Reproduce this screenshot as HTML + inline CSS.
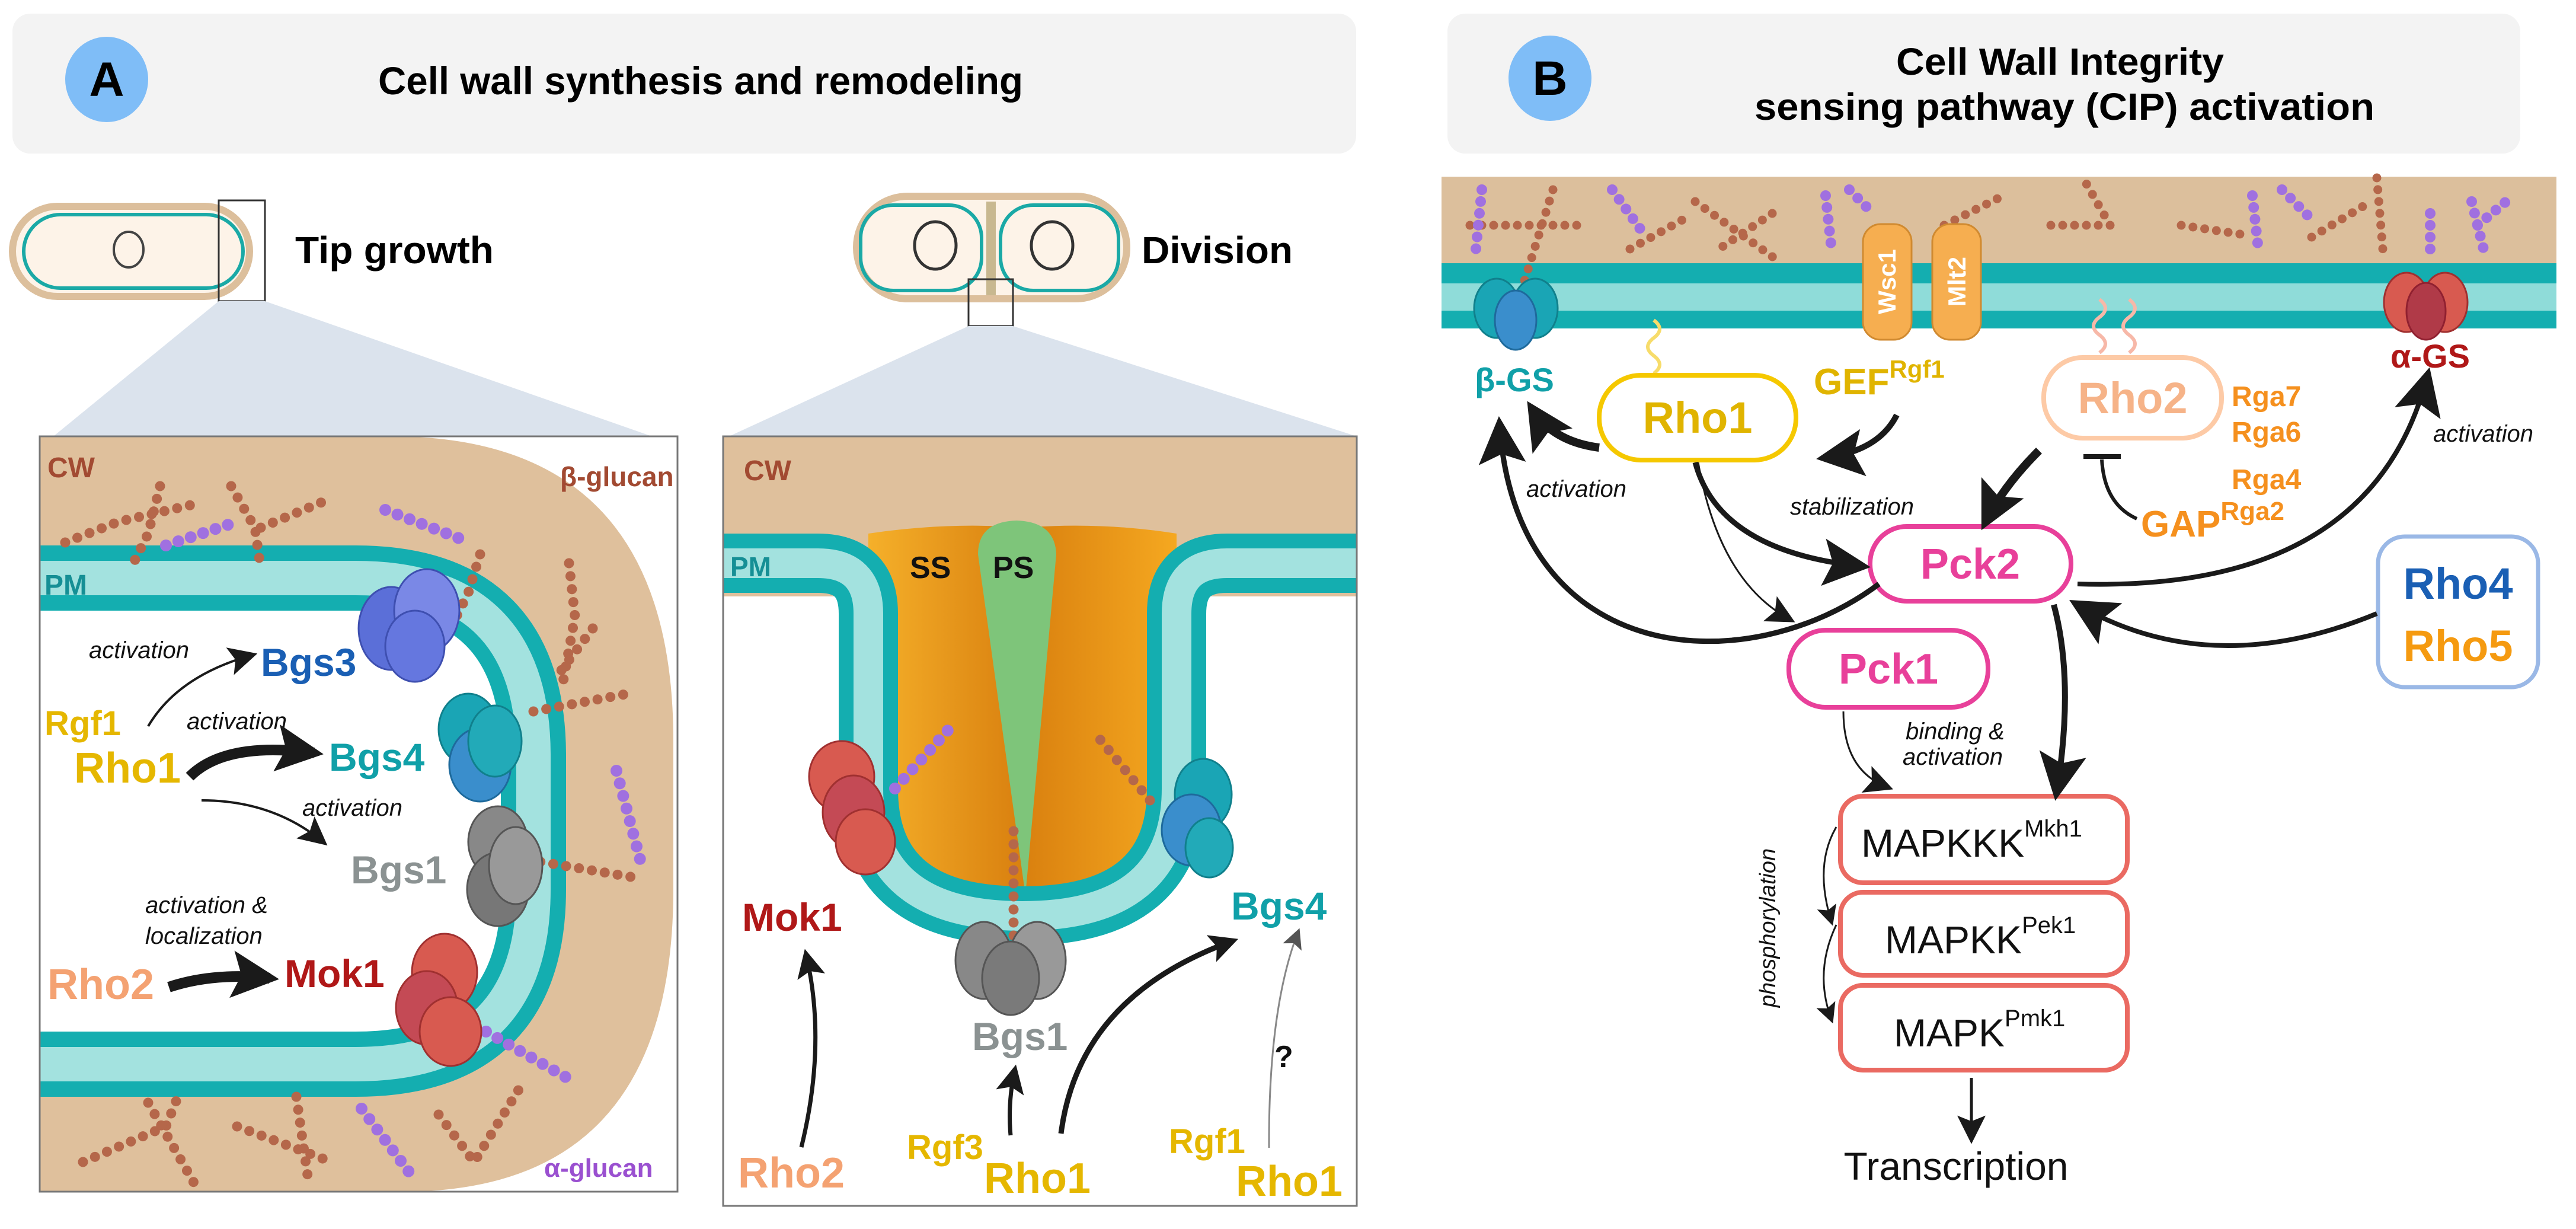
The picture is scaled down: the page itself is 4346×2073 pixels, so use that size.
<!DOCTYPE html>
<html><head><meta charset="utf-8"><style>
html,body{margin:0;padding:0;background:#fff}
svg{display:block}
text{font-family:"Liberation Sans",sans-serif}
</style></head><body>
<svg width="4346" height="2073" viewBox="0 0 4346 2073" xmlns="http://www.w3.org/2000/svg">
<defs>
<marker id="ah" viewBox="0 0 10 10" refX="8" refY="5" markerWidth="48" markerHeight="48" markerUnits="userSpaceOnUse" orient="auto"><path d="M0,0 L10,5 L0,10 L2,5 Z" fill="#1a1a1a"/></marker>
<marker id="ahb" viewBox="0 0 10 10" refX="8" refY="5" markerWidth="80" markerHeight="80" markerUnits="userSpaceOnUse" orient="auto"><path d="M0,0 L10,5 L0,10 L2,5 Z" fill="#1a1a1a"/></marker>
<marker id="ahs" viewBox="0 0 10 10" refX="8" refY="5" markerWidth="34" markerHeight="34" markerUnits="userSpaceOnUse" orient="auto"><path d="M0,0 L10,5 L0,10 L2,5 Z" fill="#1a1a1a"/></marker>
<marker id="ahg" viewBox="0 0 10 10" refX="8" refY="5" markerWidth="34" markerHeight="34" markerUnits="userSpaceOnUse" orient="auto"><path d="M0,0 L10,5 L0,10 L2,5 Z" fill="#555"/></marker>
<clipPath id="cl"><rect x="67" y="736" width="1076" height="1274"/></clipPath>
<clipPath id="cr"><rect x="1220" y="736" width="1069" height="1298"/></clipPath>
<linearGradient id="or" x1="0" x2="1"><stop offset="0" stop-color="#f5b02a"/><stop offset="0.5" stop-color="#d9800f"/><stop offset="1" stop-color="#f5a820"/></linearGradient>
</defs>

<!-- Headers -->
<rect x="21" y="23" width="2267" height="236" rx="30" fill="#f3f3f3"/>
<ellipse cx="180" cy="134" rx="70" ry="72" fill="#7fbdf7"/>
<text x="180" y="162" font-size="82" font-weight="bold" text-anchor="middle">A</text>
<text x="638" y="159" font-size="66" font-weight="bold" textLength="1088" lengthAdjust="spacingAndGlyphs">Cell wall synthesis and remodeling</text>

<rect x="2442" y="23" width="1810" height="236" rx="30" fill="#f3f3f3"/>
<ellipse cx="2615" cy="132" rx="70" ry="72" fill="#7fbdf7"/>
<text x="2615" y="160" font-size="82" font-weight="bold" text-anchor="middle">B</text>
<text x="3199" y="126" font-size="64" font-weight="bold" textLength="553" lengthAdjust="spacingAndGlyphs">Cell Wall Integrity</text>
<text x="2960" y="202" font-size="64" font-weight="bold" textLength="1046" lengthAdjust="spacingAndGlyphs">sensing pathway  (CIP) activation</text>

<!-- small cells -->
<rect x="21" y="348" width="400" height="152" rx="76" fill="#fdf3e8" stroke="#dcbf9c" stroke-width="12"/>
<rect x="40" y="362" width="370" height="124" rx="62" fill="none" stroke="#1aa9a6" stroke-width="6"/>
<ellipse cx="217" cy="421" rx="25" ry="30" fill="none" stroke="#444" stroke-width="4"/>
<rect x="369" y="338" width="78" height="170" fill="none" stroke="#333" stroke-width="3"/>
<text x="498" y="444" font-size="64" font-weight="bold" textLength="335" lengthAdjust="spacingAndGlyphs">Tip growth</text>

<rect x="1445" y="331" width="456" height="173" rx="86" fill="#fdf3e8" stroke="#dcbf9c" stroke-width="12"/>
<rect x="1452" y="346" width="204" height="144" rx="55" fill="none" stroke="#1aa9a6" stroke-width="6"/>
<rect x="1688" y="346" width="199" height="144" rx="55" fill="none" stroke="#1aa9a6" stroke-width="6"/>
<rect x="1664" y="340" width="16" height="158" fill="#c8b890"/>
<ellipse cx="1578" cy="414" rx="35" ry="40" fill="none" stroke="#333" stroke-width="5"/>
<ellipse cx="1775" cy="414" rx="35" ry="40" fill="none" stroke="#333" stroke-width="5"/>
<rect x="1634" y="471" width="75" height="79" fill="none" stroke="#333" stroke-width="3"/>
<text x="1926" y="444" font-size="64" font-weight="bold" textLength="255" lengthAdjust="spacingAndGlyphs">Division</text>

<!-- zoom triangles -->
<polygon points="369,508 447,508 1100,736 90,736" fill="#dbe3ed"/>
<polygon points="1634,550 1709,550 2289,736 1230,736" fill="#dbe3ed"/>

<!-- LEFT BOX -->
<rect x="67" y="736" width="1076" height="1274" fill="#fff"/>
<g clip-path="url(#cl)">
<path d="M0,736 H660 Q1136,736 1136,1250 V1500 Q1136,2010 680,2010 H0 Z" fill="#dfc09c"/>
<path d="M0,975 H600 Q900,975 900,1275 V1500 Q900,1795 600,1795 H0 Z" fill="#fff"/>
<path d="M0,975 H600 Q900,975 900,1275 V1500 Q900,1795 600,1795 H0" fill="none" stroke="#14aeb0" stroke-width="110"/>
<path d="M0,975 H600 Q900,975 900,1275 V1500 Q900,1795 600,1795 H0" fill="none" stroke="#a3e2df" stroke-width="58"/>
<g fill="none" stroke-linecap="round" stroke-dasharray="0 22">
<g stroke="#b5674a" stroke-width="17">
<polyline points="270,820 250,900 220,960"/><polyline points="110,915 200,880 330,850"/><polyline points="390,820 430,890 440,960"/><polyline points="440,890 560,840"/><polyline points="810,935 790,1000 760,1060"/>
<polyline points="960,950 970,1040 950,1150"/><polyline points="1000,1060 940,1140"/>
<polyline points="900,1200 1060,1170"/><polyline points="890,1450 1070,1480"/>
<polyline points="140,1960 280,1900 300,1850"/><polyline points="250,1860 330,2000"/><polyline points="400,1900 560,1960"/><polyline points="500,1850 520,1990"/><polyline points="740,1880 800,1960 880,1830"/>
</g>
<g stroke="#a070e0" stroke-width="20">
<polyline points="280,920 400,880"/><polyline points="650,860 780,910"/><polyline points="1040,1300 1080,1450"/><polyline points="820,1740 960,1820"/><polyline points="610,1870 700,1990"/>
</g>
</g>
<g stroke-width="3">
<ellipse cx="660" cy="1060" rx="55" ry="70" fill="#5b6fd8" stroke="#3e4fb0"/><ellipse cx="720" cy="1030" rx="55" ry="70" fill="#7a88e6" stroke="#3e4fb0"/><ellipse cx="700" cy="1090" rx="50" ry="60" fill="#6577df" stroke="#3e4fb0"/>
<ellipse cx="790" cy="1230" rx="50" ry="60" fill="#1aa5b5" stroke="#10808c"/><ellipse cx="810" cy="1290" rx="52" ry="62" fill="#3a8ecc" stroke="#1e6a9c"/><ellipse cx="835" cy="1250" rx="45" ry="60" fill="#22aab8" stroke="#10808c"/>
<ellipse cx="840" cy="1420" rx="50" ry="60" fill="#888" stroke="#555"/><ellipse cx="840" cy="1500" rx="52" ry="62" fill="#777" stroke="#555"/><ellipse cx="870" cy="1460" rx="45" ry="65" fill="#999" stroke="#555"/>
<ellipse cx="750" cy="1640" rx="55" ry="65" fill="#d85a50" stroke="#a03030"/><ellipse cx="720" cy="1700" rx="52" ry="62" fill="#c44a55" stroke="#a03030"/><ellipse cx="760" cy="1740" rx="52" ry="58" fill="#d85a50" stroke="#a03030"/>
</g>
</g>
<rect x="67" y="736" width="1076" height="1274" fill="none" stroke="#777" stroke-width="3"/>
<g font-weight="bold">
<text x="80" y="805" font-size="48" fill="#a24a32">CW</text>
<text x="945" y="820" font-size="46" fill="#a24a32">β-glucan</text>
<text x="75" y="1003" font-size="48" fill="#158f95">PM</text>
<text x="918" y="1985" font-size="44" fill="#9a50d0">α-glucan</text>
<text x="440" y="1140" font-size="66" fill="#1a5fb4">Bgs3</text>
<text x="555" y="1300" font-size="66" fill="#10a0a8">Bgs4</text>
<text x="592" y="1490" font-size="66" fill="#8b9292">Bgs1</text>
<text x="480" y="1665" font-size="66" fill="#b01818">Mok1</text>
<text x="75" y="1240" font-size="58" fill="#e5b700">Rgf1</text>
<text x="125" y="1320" font-size="72" fill="#e5b700">Rho1</text>
<text x="80" y="1685" font-size="72" fill="#f4a272">Rho2</text>
</g>
<g font-style="italic" font-size="40" fill="#111">
<text x="150" y="1110">activation</text>
<text x="315" y="1230">activation</text>
<text x="510" y="1376">activation</text>
<text x="245" y="1540">activation &amp;</text>
<text x="245" y="1592">localization</text>
</g>
<g fill="none" stroke="#1a1a1a">
<path d="M250,1225 Q300,1140 425,1105" stroke-width="4" marker-end="url(#ah)"/>
<path d="M320,1310 Q380,1250 530,1270" stroke-width="18" marker-end="url(#ahb)"/>
<path d="M340,1350 Q460,1350 545,1420" stroke-width="4" marker-end="url(#ah)"/>
<path d="M285,1665 Q360,1640 455,1650" stroke-width="18" marker-end="url(#ahb)"/>
</g>

<!-- RIGHT BOX -->
<rect x="1220" y="736" width="1069" height="1298" fill="#fff"/>
<g clip-path="url(#cr)">
<rect x="1200" y="736" width="1110" height="270" fill="#dfc09c"/>
<path d="M1465,900 Q1600,880 1725,890 Q1860,880 1985,900 V1330 Q1985,1545 1725,1545 Q1465,1545 1465,1330 Z" fill="url(#or)"/>
<path d="M1650,935 Q1650,880 1715,878 Q1780,880 1782,935 L1730,1510 Z" fill="#7ec57a"/>
<path d="M1200,950 H1380 Q1465,950 1465,1035 V1330 Q1465,1545 1725,1545 Q1985,1545 1985,1330 V1035 Q1985,950 2070,950 H2300" fill="none" stroke="#14aeb0" stroke-width="100"/>
<path d="M1200,950 H1380 Q1465,950 1465,1035 V1330 Q1465,1545 1725,1545 Q1985,1545 1985,1330 V1035 Q1985,950 2070,950 H2300" fill="none" stroke="#a3e2df" stroke-width="50"/>
<g fill="none" stroke-linecap="round" stroke-dasharray="0 22">
<polyline points="1510,1330 1610,1220" stroke="#a070e0" stroke-width="20"/>
<polyline points="1710,1600 1710,1400" stroke="#b5674a" stroke-width="17"/>
<polyline points="1940,1350 1850,1240" stroke="#b5674a" stroke-width="17"/>
</g>
<g stroke-width="3">
<ellipse cx="1420" cy="1310" rx="55" ry="60" fill="#d85a50" stroke="#a03030"/><ellipse cx="1440" cy="1370" rx="52" ry="62" fill="#c44a55" stroke="#a03030"/><ellipse cx="1460" cy="1420" rx="50" ry="55" fill="#d85a50" stroke="#a03030"/>
<ellipse cx="2030" cy="1340" rx="48" ry="60" fill="#1aa5b5" stroke="#10808c"/><ellipse cx="2010" cy="1400" rx="50" ry="60" fill="#3a8ecc" stroke="#1e6a9c"/><ellipse cx="2040" cy="1430" rx="40" ry="50" fill="#22aab8" stroke="#10808c"/>
<ellipse cx="1660" cy="1620" rx="48" ry="65" fill="#888" stroke="#555"/><ellipse cx="1750" cy="1620" rx="48" ry="65" fill="#999" stroke="#555"/><ellipse cx="1705" cy="1650" rx="48" ry="62" fill="#7a7a7a" stroke="#555"/>
</g>
</g>
<rect x="1220" y="736" width="1069" height="1298" fill="none" stroke="#777" stroke-width="3"/>
<g font-weight="bold">
<text x="1255" y="810" font-size="48" fill="#a24a32">CW</text>
<text x="1232" y="972" font-size="46" fill="#158f95">PM</text>
<text x="1535" y="975" font-size="52" fill="#111">SS</text>
<text x="1675" y="975" font-size="52" fill="#111">PS</text>
<text x="1252" y="1570" font-size="66" fill="#b01818">Mok1</text>
<text x="1640" y="1771" font-size="66" fill="#8b9292">Bgs1</text>
<text x="2077" y="1551" font-size="66" fill="#10a0a8">Bgs4</text>
<text x="2150" y="1800" font-size="52" fill="#111">?</text>
<text x="1245" y="2003" font-size="72" fill="#f4a272">Rho2</text>
<text x="1530" y="1955" font-size="58" fill="#e5b700">Rgf3</text>
<text x="1660" y="2012" font-size="72" fill="#e5b700">Rho1</text>
<text x="1972" y="1945" font-size="58" fill="#e5b700">Rgf1</text>
<text x="2085" y="2017" font-size="72" fill="#e5b700">Rho1</text>
</g>
<g fill="none">
<path d="M1352,1935 Q1395,1760 1360,1610" stroke="#1a1a1a" stroke-width="7" marker-end="url(#ah)"/>
<path d="M1705,1915 Q1700,1860 1712,1805" stroke="#1a1a1a" stroke-width="7" marker-end="url(#ah)"/>
<path d="M1790,1912 Q1820,1680 2080,1587" stroke="#1a1a1a" stroke-width="9" marker-end="url(#ah)"/>
<path d="M2141,1936 Q2140,1700 2190,1572" stroke="#888" stroke-width="3" marker-end="url(#ahg)"/>
</g>

<!-- PANEL B membrane -->
<rect x="2432" y="298" width="1881" height="146" fill="#dcbf9c"/>
<rect x="2432" y="444" width="1881" height="110" fill="#14aeb0"/>
<rect x="2432" y="478" width="1881" height="46" fill="#8fdcd9"/>
<g fill="none" stroke-linecap="round" stroke-dasharray="0 20">
<g stroke="#b5674a" stroke-width="15">
<polyline points="2480,380 2680,380"/><polyline points="2620,320 2570,480"/><polyline points="2750,420 2840,370"/><polyline points="2860,340 3000,440"/><polyline points="2990,360 2900,420"/>
<polyline points="3280,380 3380,330"/><polyline points="3460,380 3560,380 3520,310"/><polyline points="3680,380 3780,395"/><polyline points="3900,400 4000,340"/><polyline points="4010,300 4020,420"/>
</g>
<g stroke="#a070e0" stroke-width="18">
<polyline points="2500,320 2490,420"/><polyline points="2720,320 2770,390"/><polyline points="3080,330 3090,420"/><polyline points="3120,320 3160,360"/><polyline points="3800,330 3810,420"/><polyline points="3850,320 3900,370"/><polyline points="4100,360 4100,440"/><polyline points="4180,380 4240,330"/><polyline points="4170,340 4190,420"/>
</g>
</g>
<g stroke-width="3">
<ellipse cx="2525" cy="520" rx="38" ry="50" fill="#1aa5b5" stroke="#10808c"/><ellipse cx="2590" cy="520" rx="38" ry="50" fill="#1aa5b5" stroke="#10808c"/><ellipse cx="2557" cy="540" rx="35" ry="50" fill="#3a8ecc" stroke="#1e6a9c"/>
<ellipse cx="4060" cy="510" rx="38" ry="50" fill="#d85a50" stroke="#a03030"/><ellipse cx="4125" cy="510" rx="38" ry="50" fill="#d85a50" stroke="#a03030"/><ellipse cx="4093" cy="525" rx="33" ry="48" fill="#b03a48" stroke="#902030"/>
<rect x="3143" y="378" width="82" height="195" rx="30" fill="#f6ae50" stroke="#d08a30"/>
<rect x="3260" y="378" width="82" height="195" rx="30" fill="#f6ae50" stroke="#d08a30"/>
</g>
<text transform="translate(3198,475) rotate(-90)" font-size="42" font-weight="bold" fill="#fff" text-anchor="middle">Wsc1</text>
<text transform="translate(3316,475) rotate(-90)" font-size="42" font-weight="bold" fill="#fff" text-anchor="middle">Mlt2</text>
<path d="M2790,540 q20,15 0,30 q-20,15 0,30 q20,15 0,30" fill="none" stroke="#f7dc6a" stroke-width="6"/>
<path d="M3542,505 q20,15 0,30 q-20,15 0,30 q20,15 0,30" fill="none" stroke="#f7b8a8" stroke-width="6"/>
<path d="M3592,505 q20,15 0,30 q-20,15 0,30 q20,15 0,30" fill="none" stroke="#f7b8a8" stroke-width="6"/>

<!-- B nodes -->
<rect x="2698" y="633" width="332" height="143" rx="70" fill="#fff" stroke="#f5c800" stroke-width="8"/>
<text x="2864" y="730" font-size="74" font-weight="bold" fill="#e0b400" text-anchor="middle">Rho1</text>
<rect x="3448" y="603" width="300" height="136" rx="66" fill="#fff" stroke="#fdcaa6" stroke-width="8"/>
<text x="3598" y="697" font-size="74" font-weight="bold" fill="#f6b388" text-anchor="middle">Rho2</text>
<rect x="3155" y="888" width="339" height="126" rx="62" fill="#fff" stroke="#e8409a" stroke-width="8"/>
<text x="3324" y="976" font-size="72" font-weight="bold" fill="#e8409a" text-anchor="middle">Pck2</text>
<rect x="3018" y="1063" width="336" height="130" rx="62" fill="#fff" stroke="#e8409a" stroke-width="8"/>
<text x="3186" y="1153" font-size="72" font-weight="bold" fill="#e8409a" text-anchor="middle">Pck1</text>
<rect x="4012" y="905" width="270" height="254" rx="45" fill="#fff" stroke="#9ab8e6" stroke-width="7"/>
<text x="4147" y="1010" font-size="74" font-weight="bold" fill="#1a5fb4" text-anchor="middle">Rho4</text>
<text x="4147" y="1115" font-size="74" font-weight="bold" fill="#f59a10" text-anchor="middle">Rho5</text>
<g fill="#fff" stroke="#ea6a62" stroke-width="8">
<rect x="3105" y="1343" width="484" height="146" rx="38"/>
<rect x="3105" y="1505" width="484" height="140" rx="38"/>
<rect x="3105" y="1662" width="484" height="143" rx="38"/>
</g>
<g font-size="66" fill="#111">
<text x="3140" y="1445">MAPKKK<tspan font-size="40" dy="-34">Mkh1</tspan></text>
<text x="3180" y="1608">MAPKK<tspan font-size="40" dy="-34">Pek1</tspan></text>
<text x="3195" y="1765">MAPK<tspan font-size="40" dy="-34">Pmk1</tspan></text>
<text x="3300" y="1990" text-anchor="middle">Transcription</text>
</g>
<g font-weight="bold">
<text x="2555" y="660" font-size="56" fill="#10a0a8" text-anchor="middle">β-GS</text>
<text x="4100" y="620" font-size="56" fill="#b01818" text-anchor="middle">α-GS</text>
<text x="3060" y="665" font-size="62" fill="#e0b400">GEF<tspan font-size="42" dy="-28">Rgf1</tspan></text>
<g font-size="48" fill="#f5901e"><text x="3765" y="685">Rga7</text><text x="3765" y="745">Rga6</text><text x="3765" y="825">Rga4</text></g>
<text x="3612" y="905" font-size="62" fill="#f5901e">GAP<tspan font-size="44" dy="-28">Rga2</tspan></text>
</g>
<g font-style="italic" font-size="40" fill="#111">
<text x="2575" y="838">activation</text>
<text x="4105" y="745">activation</text>
<text x="3020" y="868">stabilization</text>
<text x="3215" y="1247">binding &amp;</text>
<text x="3210" y="1290">activation</text>
<text transform="translate(2995,1565) rotate(-90)" text-anchor="middle" font-size="38">phosphorylation</text>
</g>
<g fill="none" stroke="#1a1a1a">
<path d="M2698,755 Q2620,745 2585,690" stroke-width="14" marker-end="url(#ahb)"/>
<path d="M3200,700 Q3170,760 3080,772" stroke-width="10" marker-end="url(#ahb)"/>
<path d="M3170,985 C2950,1150 2560,1130 2530,718" stroke-width="9" marker-end="url(#ahb)"/>
<path d="M2860,780 Q2900,930 3140,955" stroke-width="9" marker-end="url(#ahb)"/>
<path d="M2865,780 Q2900,980 3020,1045" stroke-width="3" marker-end="url(#ah)"/>
<path d="M3440,760 Q3380,820 3350,880" stroke-width="14" marker-end="url(#ahb)"/>
<path d="M3605,875 Q3550,850 3546,775" stroke-width="6"/>
<path d="M3515,770 H3578" stroke-width="8"/>
<path d="M3505,985 Q4000,1000 4095,635" stroke-width="8" marker-end="url(#ahb)"/>
<path d="M4010,1035 Q3730,1150 3505,1020" stroke-width="8" marker-end="url(#ahb)"/>
<path d="M3465,1020 Q3500,1150 3470,1335" stroke-width="10" marker-end="url(#ahb)"/>
<path d="M3110,1200 Q3110,1300 3185,1328" stroke-width="3" marker-end="url(#ah)"/>
<path d="M3098,1395 Q3060,1460 3090,1555" stroke-width="3" marker-end="url(#ahs)"/>
<path d="M3098,1560 Q3060,1640 3090,1720" stroke-width="3" marker-end="url(#ahs)"/>
<path d="M3326,1818 V1920" stroke-width="5" marker-end="url(#ah)"/>
</g>
</svg>
</body></html>
